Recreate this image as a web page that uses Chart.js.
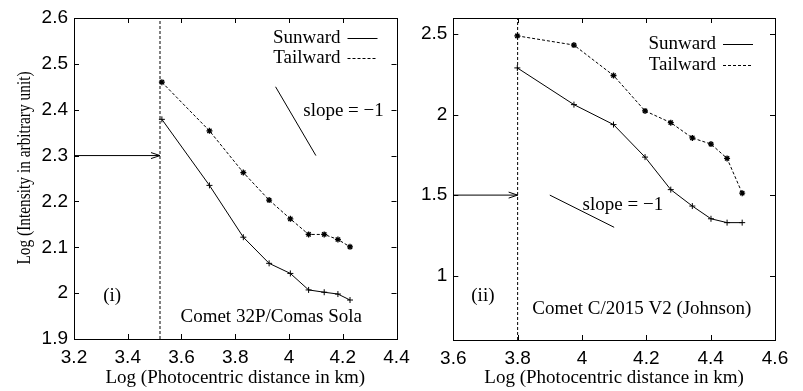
<!DOCTYPE html>
<html>
<head>
<meta charset="utf-8">
<script src="https://cdn.jsdelivr.net/npm/chart.js@4.4.1/dist/chart.umd.min.js"></script>
<style>
    html, body { margin: 0; padding: 0; background: #fff; }
    #wrap { position: relative; width: 803px; height: 391px; overflow: hidden; }
    #left { position: absolute; left: 0; top: 0; width: 430px; height: 391px; }
    #right { position: absolute; left: 400px; top: 0; width: 403px; height: 391px; }
</style>
</head>
<body>
<div id="wrap">
    <div id="left"><canvas id="chart1"></canvas></div>
    <div id="right"><canvas id="chart2"></canvas></div>
</div>
<script>
// data - panel (i) Comet 32P/Comas Sola
var leftX = [3.527, 3.704, 3.830, 3.926, 4.005, 4.073, 4.131, 4.182, 4.227];
var leftSun = [2.379, 2.235, 2.122, 2.065, 2.043, 2.007, 2.002, 1.998, 1.985];
var leftTail = [2.460, 2.354, 2.263, 2.203, 2.162, 2.128, 2.128, 2.117, 2.101];
var leftXTicks = [3.2, 3.4, 3.6, 3.8, 4, 4.2, 4.4];
var leftYTicks = [1.9, 2, 2.1, 2.2, 2.3, 2.4, 2.5, 2.6];
var leftCut = 3.52;      // dashed vertical line
var leftArrowY = 2.3;
var leftSlope = [[3.95, 2.45], [4.10, 2.30]];

// data - panel (ii) Comet C/2015 V2 (Johnson)
var rightX = [3.799, 3.975, 4.098, 4.196, 4.276, 4.343, 4.401, 4.451, 4.498];
var rightSun = [2.290, 2.062, 1.938, 1.736, 1.534, 1.432, 1.353, 1.329, 1.329];
var rightTail = [2.489, 2.432, 2.243, 2.023, 1.950, 1.855, 1.817, 1.728, 1.512];
var rightXTicks = [3.6, 3.8, 4, 4.2, 4.4, 4.6];
var rightYTicks = [1, 1.5, 2, 2.5];
var rightCut = 3.8;
var rightArrowY = 1.5;
var rightSlope = [[3.9, 1.5], [4.1, 1.3]];

var serif = '"Liberation Serif", "Times New Roman", serif';
var sans = '"Liberation Sans", Arial, sans-serif';

function toPoints(xs, ys) {
    var pts = [];
    for (var i = 0; i < xs.length; i++) pts.push({x: xs[i], y: ys[i]});
    return pts;
}

function fmt(v) { return String(+(+v).toFixed(2)); }

// frame, inward ticks, arrow head, texts and legend
var decorPlugin = {
    id: 'decor',
    afterDatasetsDraw: function (chart, args, o) {
        var ctx = chart.ctx, a = chart.chartArea;
        var xs = chart.scales.x, ys = chart.scales.y;
        ctx.save();
        ctx.strokeStyle = '#000';
        ctx.lineWidth = 1;
        ctx.setLineDash([]);
        ctx.strokeRect(Math.round(a.left) + 0.5, Math.round(a.top) + 0.5,
            Math.round(a.right - a.left), Math.round(a.bottom - a.top));
        ctx.beginPath();
        xs.ticks.forEach(function (t) {
            var px = Math.round(xs.getPixelForValue(t.value)) + 0.5;
            ctx.moveTo(px, a.bottom); ctx.lineTo(px, a.bottom - 5);
            ctx.moveTo(px, a.top); ctx.lineTo(px, a.top + 5);
        });
        ys.ticks.forEach(function (t) {
            var py = Math.round(ys.getPixelForValue(t.value)) + 0.5;
            ctx.moveTo(a.left, py); ctx.lineTo(a.left + 5, py);
            ctx.moveTo(a.right, py); ctx.lineTo(a.right - 5, py);
        });
        ctx.stroke();

        // arrow head
        var ax = xs.getPixelForValue(o.arrow.x), ay = ys.getPixelForValue(o.arrow.y);
        ctx.beginPath();
        ctx.moveTo(ax - 9, ay - 3); ctx.lineTo(ax, ay); ctx.lineTo(ax - 9, ay + 3);
        ctx.stroke();

        ctx.fillStyle = '#000';
        ctx.font = '19px ' + serif;
        ctx.textBaseline = 'middle';
        o.texts.forEach(function (t) {
            ctx.textAlign = t.align;
            ctx.fillText(t.text, xs.getPixelForValue(t.x), ys.getPixelForValue(t.y));
        });

        // legend
        var lg = o.legend;
        chart.data.datasets.slice(0, 2).forEach(function (ds, i) {
            var y = a.top + lg.top + i * lg.gap;
            ctx.textAlign = 'right';
            ctx.fillText(ds.label, a.right - lg.textRight, y);
            ctx.beginPath();
            ctx.setLineDash(ds.borderDash || []);
            ctx.moveTo(a.right - lg.lineStart, Math.round(y) + 0.5);
            ctx.lineTo(a.right - lg.lineEnd, Math.round(y) + 0.5);
            ctx.stroke();
        });
        ctx.setLineDash([]);

        // y title (squeezed along its length like the original)
        if (o.yTitle) {
            ctx.save();
            ctx.translate(o.yTitle.x, o.yTitle.y);
            ctx.rotate(-Math.PI / 2);
            ctx.scale(0.81, 1);
            ctx.textAlign = 'center';
            ctx.fillText(o.yTitle.text, 0, 0);
            ctx.restore();
        }
        ctx.restore();
    }
};

function buildChart(id, p) {
    var ctx = document.getElementById(id).getContext('2d');
    return new Chart(ctx, {
        type: 'scatter',
        data: {
            datasets: [{
                label: 'Sunward',
                data: toPoints(p.x, p.sun),
                showLine: true,
                borderColor: '#000',
                backgroundColor: '#000',
                borderWidth: 1,
                pointStyle: 'cross',
                pointRadius: 3,
                pointBorderWidth: 1
            }, {
                label: 'Tailward',
                data: toPoints(p.x, p.tail),
                showLine: true,
                borderColor: '#000',
                backgroundColor: '#000',
                borderWidth: 1,
                borderDash: [3, 2],
                pointStyle: 'star',
                pointRadius: 3,
                pointBorderWidth: 1.3
            }, {
                label: 'cut',
                data: [{x: p.cut, y: p.yMin}, {x: p.cut, y: p.yMax}],
                showLine: true,
                borderColor: '#000',
                borderWidth: 1,
                borderDash: [3, 2],
                pointRadius: 0
            }, {
                label: 'arrow',
                data: [{x: p.xMin, y: p.arrowY}, {x: p.cut, y: p.arrowY}],
                showLine: true,
                borderColor: '#000',
                borderWidth: 1,
                pointRadius: 0
            }, {
                label: 'slope',
                data: [{x: p.slope[0][0], y: p.slope[0][1]}, {x: p.slope[1][0], y: p.slope[1][1]}],
                showLine: true,
                borderColor: '#000',
                borderWidth: 1,
                pointRadius: 0
            }]
        },
        options: {
            responsive: true,
            maintainAspectRatio: false,
            animation: false,
            events: [],
            layout: {autoPadding: false, padding: {top: 18, right: p.padRight, bottom: 0, left: 0}},
            plugins: {
                legend: {display: false},
                tooltip: {enabled: false},
                decor: {arrow: {x: p.cut, y: p.arrowY}, texts: p.texts, legend: p.legend, yTitle: p.yTitle}
            },
            scales: {
                x: {
                    type: 'linear',
                    min: p.xMin, max: p.xMax,
                    afterBuildTicks: function (s) { s.ticks = p.xTicks.map(function (v) { return {value: v}; }); },
                    afterFit: function (s) { s.height = p.xHeight; },
                    grid: {display: true, drawOnChartArea: false, drawTicks: false},
                    border: {display: false},
                    ticks: {color: '#000', padding: 7, font: {family: sans, size: 19}, maxRotation: 0, callback: fmt},
                    title: {display: true, text: 'Log (Photocentric distance in km)', color: '#000',
                        font: {family: serif, size: 19}, padding: {top: 0, bottom: 2}}
                },
                y: {
                    type: 'linear',
                    min: p.yMin, max: p.yMax,
                    afterBuildTicks: function (s) { s.ticks = p.yTicks.map(function (v) { return {value: v}; }); },
                    afterFit: function (s) { s.width = p.yWidth; },
                    grid: {display: true, drawOnChartArea: false, drawTicks: false},
                    border: {display: false},
                    ticks: {color: '#000', padding: 6, font: {family: sans, size: 19}, callback: fmt}
                }
            }
        },
        plugins: [decorPlugin]
    });
}

buildChart('chart1', {
    x: leftX, sun: leftSun, tail: leftTail,
    xMin: 3.2, xMax: 4.4, yMin: 1.9, yMax: 2.6,
    xTicks: leftXTicks, yTicks: leftYTicks,
    cut: leftCut, arrowY: leftArrowY, slope: leftSlope,
    padRight: 33.5, yWidth: 74, xHeight: 52,
    texts: [
        {text: 'slope = \u22121', x: 4.053, y: 2.397, align: 'left'},
        {text: '(i)', x: 3.342, y: 1.994, align: 'center'},
        {text: 'Comet 32P/Comas Sola', x: 3.934, y: 1.948, align: 'center'}
    ],
    legend: {top: 20, gap: 20, textRight: 56, lineStart: 49, lineEnd: 19},
    yTitle: {text: 'Log (Intensity in arbitrary unit)', x: 25, y: 168}
});

buildChart('chart2', {
    x: rightX, sun: rightSun, tail: rightTail,
    xMin: 3.6, xMax: 4.6, yMin: 0.6, yMax: 2.6,
    xTicks: rightXTicks, yTicks: rightYTicks,
    cut: rightCut, arrowY: rightArrowY, slope: rightSlope,
    padRight: 28, yWidth: 53.3, xHeight: 51,
    texts: [
        {text: 'slope = \u22121', x: 4.002, y: 1.436, align: 'left'},
        {text: '(ii)', x: 3.692, y: 0.876, align: 'center'},
        {text: 'Comet C/2015 V2 (Johnson)', x: 4.186, y: 0.795, align: 'center'}
    ],
    legend: {top: 26, gap: 21, textRight: 59, lineStart: 52, lineEnd: 22},
    yTitle: null
});
</script>
</body>
</html>
